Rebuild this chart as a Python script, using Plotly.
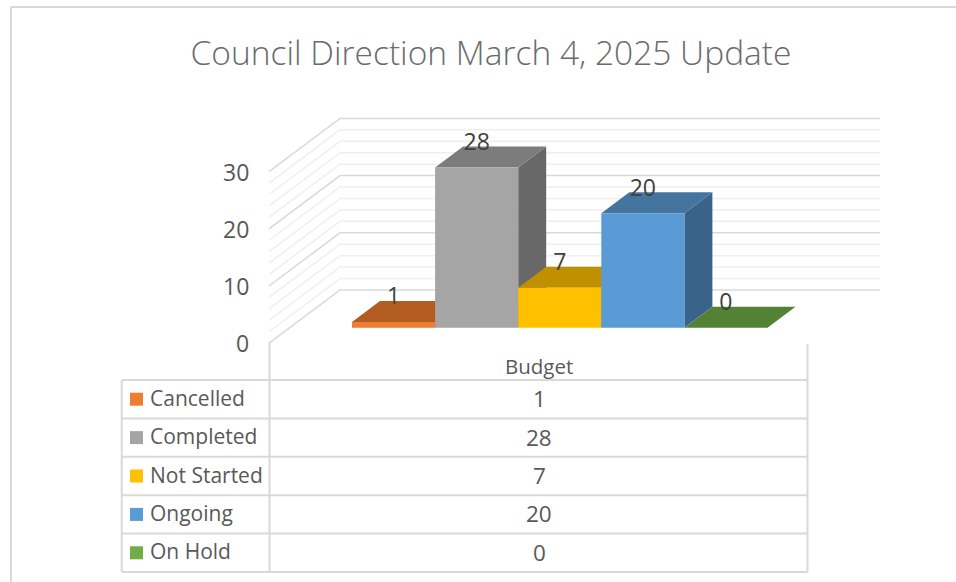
import plotly.graph_objects as go

# ---- data ----
TITLE = "Council Direction March 4, 2025 Update"
categories = ["Cancelled", "Completed", "Not Started", "Ongoing", "On Hold"]
values = [1, 28, 7, 20, 0]
column_label = "Budget"
major_ticks = [0, 10, 20, 30]
minor_ticks = [2, 4, 6, 8, 12, 14, 16, 18, 22, 24, 26, 28]
front_colors = ["#ED7D31", "#A5A5A5", "#FFC000", "#5B9BD5", "#70AD47"]
top_colors = ["#B35C21", "#7C7C7C", "#BF9000", "#4475A1", "#548235"]
side_colors = ["#8F4A1A", "#686868", "#997300", "#3A6389", "#43682A"]

# ---- geometry ----
W, H = 956, 582
BAR_LEFT_PX, BAR_W_PX = 352.0, 83.1
BASE_PX, UNIT_PX = 327.7, 5.72
def X(px): return (px - BAR_LEFT_PX) / BAR_W_PX
def Y(py): return (BASE_PX - py) / UNIT_PX
def PX(px): return px / W
def PY(py): return 1 - py / H

xr = [X(0), X(W)]
yr = [Y(H), Y(0)]
depth_x, depth_y = 28 / BAR_W_PX, 21 / UNIT_PX
wall_fx, wall_fy = X(269), Y(343.2)
wall_bx, wall_by = X(340), Y(290)
wall_rx = X(880)

GRID_MAJOR, GRID_MINOR, LINE = "#D9D9D9", "#EFEFEF", "#D9D9D9"
TEXT = "#595959"
FONT = "Open Sans"

fig = go.Figure()

def grid(v, color, width):
    fig.add_trace(go.Scatter(
        x=[wall_fx, wall_bx, wall_rx],
        y=[wall_fy + v, wall_by + v, wall_by + v],
        mode="lines", line=dict(color=color, width=width),
        hoverinfo="skip", showlegend=False))

for v in minor_ticks:
    grid(v, GRID_MINOR, 1.5)
for v in major_ticks:
    grid(v, GRID_MAJOR, 1.5)

# side and top faces, left to right, below the front faces
for i, v in enumerate(values):
    l, r = i, i + 1
    if v > 0:
        fig.add_trace(go.Scatter(
            x=[r, r + depth_x, r + depth_x, r, r],
            y=[0, depth_y, v + depth_y, v, 0],
            mode="lines", fill="toself", fillcolor=side_colors[i],
            line=dict(width=0), hoverinfo="skip", showlegend=False))
    fig.add_trace(go.Scatter(
        x=[l, l + depth_x, r + depth_x, r, l],
        y=[v, v + depth_y, v + depth_y, v, v],
        mode="lines", fill="toself", fillcolor=top_colors[i],
        line=dict(width=0), hoverinfo="skip", showlegend=False))

# front faces on an overlaid pair of axes so they sit above the faces behind
fig.add_trace(go.Bar(
    x=[i + 0.5 for i in range(len(values))], y=values, width=1,
    marker=dict(color=front_colors, line=dict(width=0)),
    xaxis="x2", yaxis="y2", hoverinfo="skip", showlegend=False))

# data labels
fig.add_trace(go.Scatter(
    x=[i + 0.5 for i in range(len(values))],
    y=[v + 23.5 / UNIT_PX for v in values],
    text=[str(v) for v in values], mode="text", textposition="middle center",
    textfont=dict(family=FONT, size=23, color="#404040"),
    xaxis="x2", yaxis="y2", hoverinfo="skip", showlegend=False))

shapes = []
def pline(x0, y0, x1, y1, color=LINE, width=2):
    shapes.append(dict(type="line", xref="paper", yref="paper",
                       x0=PX(x0), y0=PY(y0), x1=PX(x1), y1=PY(y1),
                       line=dict(color=color, width=width)))

# outer frame (left and top edges)
pline(11, H, 11, 7)
pline(11, 7, W, 7)

# table
ROW_TOP, ROW_H = 380.0, 38.4
T_LEFT, T_MID, T_RIGHT = 121.7, 269.5, 807.5
n = len(categories)
for k in range(n + 1):
    pline(T_LEFT, ROW_TOP + k * ROW_H, T_RIGHT, ROW_TOP + k * ROW_H)
T_BOTTOM = ROW_TOP + n * ROW_H
pline(T_LEFT, ROW_TOP, T_LEFT, T_BOTTOM)
pline(T_MID, 343, T_MID, T_BOTTOM)
pline(T_RIGHT, 344, T_RIGHT, T_BOTTOM)

annotations = []
def ptext(s, x, y, anchor="left", size=21, color=TEXT):
    annotations.append(dict(text=s, xref="paper", yref="paper", x=PX(x), y=PY(y),
                            xanchor=anchor, yanchor="middle", showarrow=False,
                            font=dict(family=FONT, size=size, color=color)))

ptext(column_label, 539, 365.5, "center", size=20.5)
for k, (c, v, col) in enumerate(zip(categories, values, front_colors)):
    cy = ROW_TOP + (k + 0.5) * ROW_H
    shapes.append(dict(type="rect", xref="paper", yref="paper",
                       x0=PX(130), x1=PX(143), y0=PY(cy - 6.5), y1=PY(cy + 6.5),
                       fillcolor=col, line=dict(width=0)))
    ptext(c, 148, cy - 1.5)
    ptext(str(v), 539, cy - 0.5, "center", size=22.5)

# value axis labels on the front edge of the side wall
for t in major_ticks:
    annotations.append(dict(text=str(t), xref="x", yref="y", x=wall_fx, y=wall_fy + t,
                            xanchor="right", yanchor="middle", xshift=-18, showarrow=False,
                            font=dict(family=FONT, size=23, color=TEXT)))

ax = dict(visible=False, fixedrange=True)
fig.update_layout(
    width=W, height=H, margin=dict(l=0, r=0, t=0, b=0),
    paper_bgcolor="white", plot_bgcolor="white", showlegend=False,
    title=dict(text=TITLE, x=PX(491), y=PY(53), xanchor="center", yanchor="middle",
               font=dict(family=FONT, size=33.5, weight=300, color="#6B6B6B")),
    xaxis=dict(range=xr, domain=[0, 1], **ax),
    yaxis=dict(range=yr, domain=[0, 1], **ax),
    xaxis2=dict(range=xr, overlaying="x", **ax),
    yaxis2=dict(range=yr, overlaying="y", **ax),
    shapes=shapes, annotations=annotations,
)

fig.write_html("out.html", config=dict(displayModeBar=False),
               post_script="document.body.style.margin='0';")
